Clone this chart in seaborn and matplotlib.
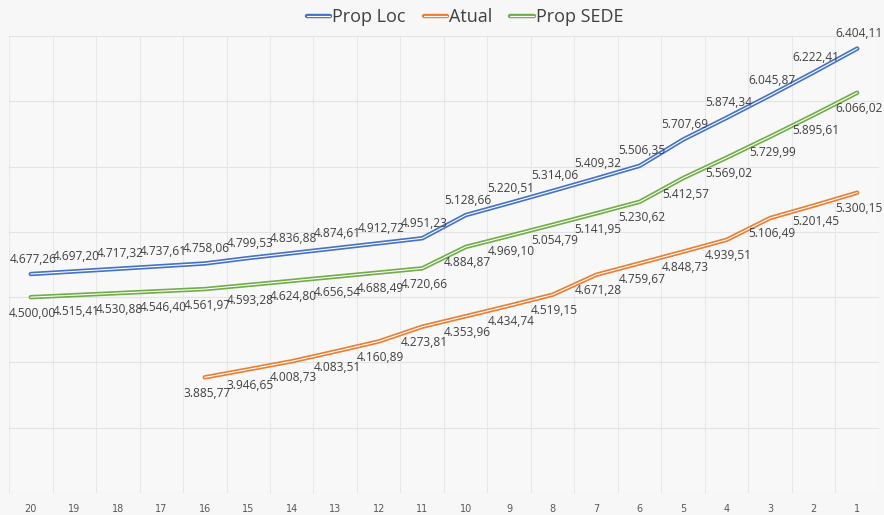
import matplotlib
matplotlib.use('Agg')
import matplotlib.pyplot as plt
import matplotlib.patheffects as pe
import seaborn as sns
import numpy as np
import pandas as pd

# periods, shown from 20 down to 1
periods = ['20', '19', '18', '17', '16', '15', '14', '13', '12', '11',
           '10', '9', '8', '7', '6', '5', '4', '3', '2', '1']

prop_loc = [4677.26, 4697.20, 4717.32, 4737.61, 4758.06, 4799.53, 4836.88, 4874.61, 4912.72, 4951.23,
            5128.66, 5220.51, 5314.06, 5409.32, 5506.35, 5707.69, 5874.34, 6045.87, 6222.41, 6404.11]
atual = [np.nan, np.nan, np.nan, np.nan, 3885.77, 3946.65, 4008.73, 4083.51, 4160.89, 4273.81,
         4353.96, 4434.74, 4519.15, 4671.28, 4759.67, 4848.73, 4939.51, 5106.49, 5201.45, 5300.15]
prop_sede = [4500.00, 4515.41, 4530.88, 4546.40, 4561.97, 4593.28, 4624.80, 4656.54, 4688.49, 4720.66,
             4884.87, 4969.10, 5054.79, 5141.95, 5230.62, 5412.57, 5569.02, 5729.99, 5895.61, 6066.02]

series_names = ['Prop Loc', 'Atual', 'Prop SEDE']
colors = ['#4472C4', '#ED7D31', '#70AD47']

df = pd.DataFrame({'pos': range(len(periods)), 'period': periods,
                   'Prop Loc': prop_loc, 'Atual': atual, 'Prop SEDE': prop_sede})


def fmt_br(v):
    # 4677.26 -> 4.677,26
    s = f'{v:,.2f}'
    return s.replace(',', 'X').replace('.', ',').replace('X', '.')


sns.set_style('white')
plt.rcParams['font.family'] = ['Open Sans', 'DejaVu Sans']

fig = plt.figure(figsize=(8.84, 5.15), dpi=100)
fig.patch.set_facecolor('#f7f7f7')
ax = fig.add_axes([0.0102, 0.0427, 0.9841, 0.8873])
ax.set_facecolor('#f8f8f8')

for name, col in zip(series_names, colors):
    sns.lineplot(data=df, x='pos', y=name, ax=ax, color='white', lw=0.8, label=name,
                 path_effects=[pe.Stroke(linewidth=3.2, foreground=col), pe.Normal()])

# data labels: Prop Loc above, others below
for name in series_names:
    offset = 15 if name == 'Prop Loc' else -16
    for x, v in zip(df['pos'], df[name]):
        if np.isnan(v):
            continue
        ax.annotate(fmt_br(v), (x, v), xytext=(2, offset), textcoords='offset pixels',
                    ha='center', va='center', fontsize=8.6, color='#404040')

ax.set_xlim(-0.5, len(periods) - 0.5)
ax.set_ylim(3000, 6500)
ax.set_yticks(np.arange(3000, 6501, 500))
ax.set_yticklabels([])
ax.set_xticks(df['pos'])
ax.set_xticklabels(periods, fontsize=7, color='#595959', family='Liberation Sans Narrow')
ax.set_xticks(np.arange(-0.5, len(periods), 1), minor=True)
ax.tick_params(axis='both', which='both', length=0, pad=8)
ax.grid(axis='y', which='major', color='#e4e4e4', lw=0.8)
ax.grid(axis='x', which='minor', color='#e8e8e8', lw=0.8)
ax.set_xlabel('')
ax.set_ylabel('')
sns.despine(ax=ax, left=True, top=True, right=True, bottom=True)

ax.legend(loc='center', bbox_to_anchor=(0.526, 0.967), bbox_transform=fig.transFigure,
          ncol=3, frameon=False, fontsize=13, handlelength=1.3, handletextpad=0.1,
          columnspacing=1.0, labelcolor='#404040')

fig.savefig('out.png', dpi=100, facecolor=fig.get_facecolor())
